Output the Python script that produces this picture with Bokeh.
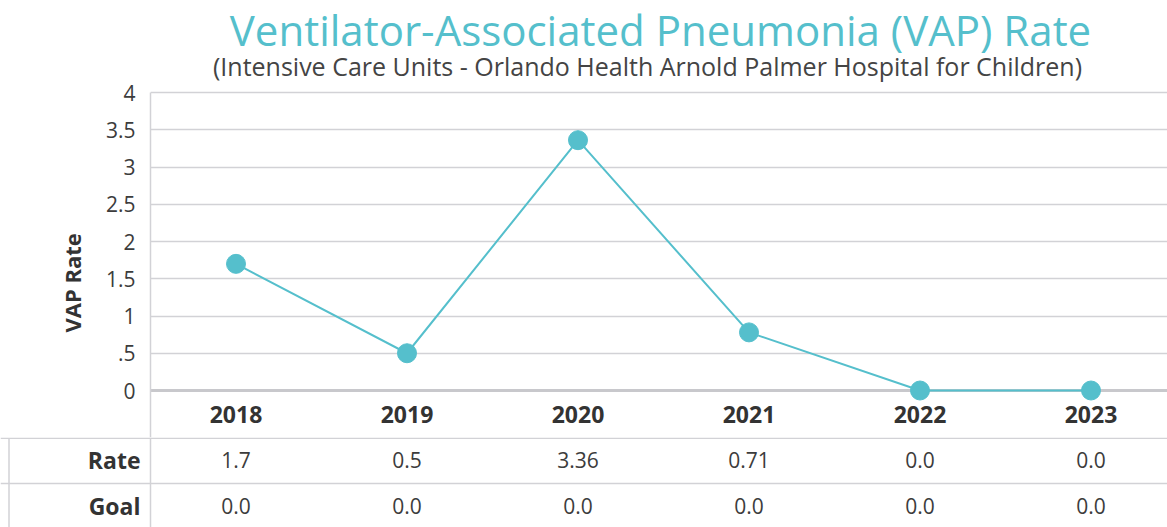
from bokeh.plotting import figure
from bokeh.models import Range1d, FixedTicker, Title, Grid, ColumnDataSource
from bokeh.layouts import column
from bokeh.embed import file_html
from bokeh.resources import INLINE
from bokeh.core.properties import value

# ---- data ----
years = ["2018", "2019", "2020", "2021", "2022", "2023"]
rate = [1.7, 0.5, 3.36, 0.78, 0.0, 0.0]          # plotted positions
rate_labels = ["1.7", "0.5", "3.36", "0.71", "0.0", "0.0"]
goal_labels = ["0.0", "0.0", "0.0", "0.0", "0.0", "0.0"]
row_names = ["Rate", "Goal"]
y_ticks = [0, 0.5, 1, 1.5, 2, 2.5, 3, 3.5, 4]
y_tick_labels = ["0", ".5", "1", "1.5", "2", "2.5", "3", "3.5", "4"]
title_text = "Ventilator-Associated Pneumonia (VAP) Rate"
subtitle_text = "(Intensive Care Units - Orlando Health Arnold Palmer Hospital for Children)"

TEAL = "#55bfcc"
GRID = "#d2d2d6"
TXT = "#3c3c3c"
FONT = "Open Sans"

W = 1167
LEFT = 150
COLW = 171.0
PXU = 74.5          # pixels per rate unit
TOP0 = 92           # pixel row of the top tick
x_pos = [i + 0.5 for i in range(len(years))]
x_end = (W - LEFT) / COLW
y_lo = -47 / PXU     # header row below the zero line
y_hi = y_ticks[-1] + TOP0 / PXU

# ---- chart ----
p = figure(width=W, height=437, output_backend="svg", toolbar_location=None,
           x_range=Range1d(0, x_end), y_range=Range1d(y_lo, y_hi),
           min_border_left=LEFT, min_border_right=0, min_border_bottom=0,
           min_border_top=0)
p.frame_align = False
p.outline_line_color = None
p.xaxis.visible = False
p.xgrid.visible = False

p.yaxis.ticker = FixedTicker(ticks=y_ticks)
p.yaxis.bounds = (y_lo, y_ticks[-1])
p.yaxis.major_label_overrides = {t: l for t, l in zip(y_ticks, y_tick_labels)}
p.yaxis.major_tick_line_color = None
p.yaxis.minor_tick_line_color = None
p.yaxis.axis_line_color = GRID
p.yaxis.axis_line_width = 1.5
p.yaxis.major_label_text_font = FONT
p.yaxis.major_label_text_font_size = "21px"
p.yaxis.major_label_text_color = TXT
p.yaxis.major_label_standoff = 9

p.ygrid.ticker = FixedTicker(ticks=y_ticks[1:])
p.ygrid.grid_line_color = GRID
p.ygrid.grid_line_width = 1.5
zero_grid = Grid(dimension=1, ticker=FixedTicker(ticks=[y_ticks[0]]),
                 grid_line_color="#c8c8cc", grid_line_width=3)
p.add_layout(zero_grid)

src = ColumnDataSource(dict(x=x_pos, y=rate))
p.line("x", "y", source=src, line_color=TEAL, line_width=2)
p.scatter("x", "y", source=src, size=19, fill_color=TEAL, line_color=TEAL)

hdr = ColumnDataSource(dict(x=x_pos, y=[y_lo / 2] * len(years), t=years))
p.text("x", "y", text="t", source=hdr, text_align="center", text_baseline="middle",
       text_font=value(FONT), text_font_size="23px", text_font_style="bold", text_color="#333333")

# titles (inside the frame area above the top tick)
p.text(x=[(660 - LEFT) / COLW], y=[y_ticks[-1] + (TOP0 - 29) / PXU], text=[title_text],
       text_align="center", text_baseline="middle", text_font=value(FONT),
       text_font_size="42px", text_color=TEAL)
p.text(x=[(647 - LEFT) / COLW], y=[y_ticks[-1] + (TOP0 - 65) / PXU], text=[subtitle_text],
       text_align="center", text_baseline="middle", text_font=value(FONT),
       text_font_size="25px", text_color="#444444")

p.add_layout(Title(text="VAP Rate", align="left", offset=105, text_font=FONT,
                   text_font_size="22px", text_font_style="bold", text_color="#333333",
                   standoff=32), "left")

# ---- table ----
TH = 527 - 437
RH = 46
x_start = -LEFT / COLW
t = figure(width=W, height=TH, output_backend="svg", toolbar_location=None,
           x_range=Range1d(x_start, x_end), y_range=Range1d(0, TH),
           min_border=0)
t.frame_align = False
t.outline_line_color = None
t.axis.visible = False
t.grid.visible = False

sep_y = [TH - 0.75] + [TH - RH * k for k in range(1, len(row_names))]
t.segment(x0=[x_start] * len(sep_y), y0=sep_y, x1=[x_end] * len(sep_y), y1=sep_y,
          line_color=GRID, line_width=1.5)
left_x = x_start + 8.5 / COLW
t.segment(x0=[0, left_x], y0=[0, 0], x1=[0, left_x], y1=[TH, TH - 0.75],
          line_color=GRID, line_width=1.5)

for r, (name, labels) in enumerate(zip(row_names, [rate_labels, goal_labels])):
    yc = TH - RH * r - RH / 2 + 1
    s = ColumnDataSource(dict(x=x_pos, y=[yc] * len(labels), t=labels))
    t.text("x", "y", text="t", source=s, text_align="center", text_baseline="middle",
           text_font=value(FONT), text_font_size="21px", text_color=TXT)
    t.text(x=[-10 / COLW], y=[yc], text=[name], text_align="right", text_baseline="middle",
           text_font=value(FONT), text_font_size="23px", text_font_style="bold",
           text_color="#333333")

layout = column(p, t, spacing=0)
open("out.html", "w").write(file_html(layout, INLINE))
